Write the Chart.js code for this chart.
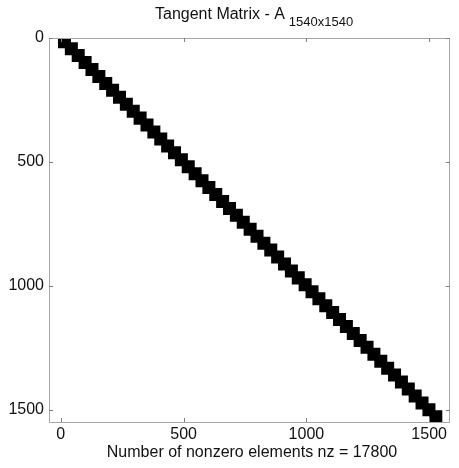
<!DOCTYPE html>
<html>
<head>
<meta charset="utf-8">
<script src="https://cdn.jsdelivr.net/npm/chart.js@4/dist/chart.umd.min.js"></script>
<style>
  html, body { margin: 0; padding: 0; background: #fff; }
  #wrap { width: 459px; height: 468px; }
</style>
</head>
<body>
<div id="wrap"><canvas id="c" width="459" height="468"></canvas></div>
<script>
// Block positions along the diagonal (column index, row index)
const colIdx = [15,43,71,99,127,155,183,211,239,267,295,323,351,379,407,435,463,491,519,547,575,603,631,659,687,715,743,771,799,827,855,883,911,939,967,995,1023,1051,1079,1107,1135,1163,1191,1219,1247,1275,1303,1331,1359,1387,1415,1443,1471,1499,1527];
const rowIdx = [15,43,71,99,127,155,183,211,239,267,295,323,351,379,407,435,463,491,519,547,575,603,631,659,687,715,743,771,799,827,855,883,911,939,967,995,1023,1051,1079,1107,1135,1163,1191,1219,1247,1275,1303,1331,1359,1387,1415,1443,1471,1499,1527];
const xTicks = [0, 500, 1000, 1500];
const yTicks = [0, 500, 1000, 1500];
const titleMain = "Tangent Matrix - A";
const titleSub = "1540x1540";
const xLabel = "Number of nonzero elements nz = 17800";

const FONT = "'Liberation Sans', Arial, sans-serif";

const points = colIdx.map((c, i) => ({ x: c, y: rowIdx[i] }));

const decor = {
  id: 'decor',
  afterDraw(chart) {
    const ctx = chart.ctx;
    const a = chart.chartArea;
    const xs = chart.scales.x, ys = chart.scales.y;
    ctx.save();
    // axes box
    ctx.strokeStyle = '#a6a6a6';
    ctx.lineWidth = 1;
    ctx.beginPath();
    ctx.rect(Math.round(a.left) + 0.5, Math.round(a.top) + 0.5, Math.round(a.right - a.left) - 1, Math.round(a.bottom - a.top));
    ctx.stroke();
    // inward ticks
    ctx.strokeStyle = '#808080';
    ctx.beginPath();
    xTicks.forEach(v => {
      const px = Math.round(xs.getPixelForValue(v)) + 0.5;
      ctx.moveTo(px, a.bottom); ctx.lineTo(px, a.bottom - 4);
      ctx.moveTo(px, a.top); ctx.lineTo(px, a.top + 4);
    });
    yTicks.forEach(v => {
      const py = Math.round(ys.getPixelForValue(v)) + 0.5;
      ctx.moveTo(a.left, py); ctx.lineTo(a.left + 4, py);
      ctx.moveTo(a.right, py); ctx.lineTo(a.right - 4, py);
    });
    ctx.stroke();
    // title with subscript
    ctx.fillStyle = '#111';
    ctx.textBaseline = 'alphabetic';
    ctx.font = '16px ' + FONT;
    const w1 = ctx.measureText(titleMain).width;
    const x0 = 155;
    ctx.textAlign = 'left';
    ctx.fillText(titleMain, x0, 19);
    ctx.font = '13px ' + FONT;
    ctx.fillText(titleSub, x0 + w1 + 4, 26);
    // x label
    ctx.font = '16px ' + FONT;
    ctx.textAlign = 'center';
    ctx.fillText(xLabel, 252, 457);
    ctx.restore();
  }
};

new Chart(document.getElementById('c'), {
  type: 'scatter',
  data: {
    datasets: [{
      data: points,
      pointStyle: 'rect',
      pointRadius: 9.2,
      pointHoverRadius: 9.2,
      backgroundColor: '#000',
      borderColor: '#000',
      borderWidth: 0,
      clip: 0
    }]
  },
  options: {
    responsive: false,
    animation: false,
    events: [],
    layout: { padding: { top: 38, right: 1, left: 0, bottom: 0 } },
    plugins: { legend: { display: false }, tooltip: { enabled: false }, title: { display: false } },
    scales: {
      x: {
        type: 'linear',
        min: -48, max: 1584,
        afterBuildTicks: s => { s.ticks = xTicks.map(v => ({ value: v })); },
        afterFit: s => { s.height = 46; },
        grid: { display: false, drawTicks: false },
        border: { display: false },
        ticks: { color: '#111', font: { family: FONT, size: 16 }, padding: 3, maxRotation: 0, callback: v => String(v) }
      },
      y: {
        type: 'linear',
        reverse: true,
        min: 0, max: 1548,
        afterBuildTicks: s => { s.ticks = yTicks.map(v => ({ value: v })); },
        afterFit: s => { s.width = 49; },
        grid: { display: false, drawTicks: false },
        border: { display: false },
        ticks: { color: '#111', font: { family: FONT, size: 16 }, padding: 5, callback: v => String(v) }
      }
    }
  },
  plugins: [decor]
});
</script>
</body>
</html>
